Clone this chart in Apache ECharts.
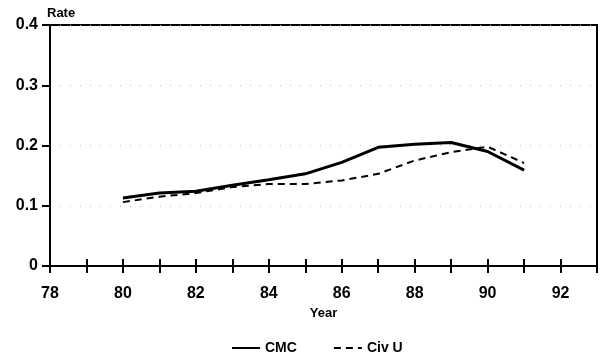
<!DOCTYPE html>
<html>
<head>
<meta charset="utf-8">
<script src="https://cdn.jsdelivr.net/npm/echarts@6/dist/echarts.min.js"></script>
<style>
  html, body { margin: 0; padding: 0; background: #fff; }
  #chart { width: 600px; height: 356px; }
</style>
</head>
<body>
<div id="chart"></div>
<script>
// data
const years = [80, 81, 82, 83, 84, 85, 86, 87, 88, 89, 90, 91]
const cmc = [0.113, 0.121, 0.124, 0.134, 0.143, 0.153, 0.172, 0.197, 0.202, 0.205, 0.190, 0.159]
const civU = [0.106, 0.115, 0.121, 0.131, 0.136, 0.136, 0.142, 0.153, 0.175, 0.189, 0.198, 0.171]

function pairs(xs, ys) {
  return xs.map((x, i) => [x, ys[i]])
}

const font = 'Liberation Sans, Arial, sans-serif'
const chart = echarts.init(document.getElementById('chart'))

const xCommon = {
  type: 'value',
  min: 78,
  max: 93,
  interval: 1,
  splitLine: { show: false }
}

chart.setOption({
  animation: false,
  backgroundColor: '#fff',
  grid: {
    left: 50, top: 25, right: 2, bottom: 90,
    show: true,
    borderColor: '#000',
    borderWidth: 2
  },
  legend: {
    top: 336,
    left: 226,
    itemWidth: 28,
    itemHeight: 10,
    itemGap: 36,
    itemStyle: { opacity: 0 },
    textStyle: { fontFamily: font, fontWeight: 'bold', fontSize: 14, color: '#000' },
    data: ['CMC', 'Civ U']
  },
  xAxis: [
    Object.assign({}, xCommon, {
      name: 'Year',
      nameLocation: 'middle',
      nameGap: 33,
      nameTextStyle: { fontFamily: font, fontWeight: 'bold', fontSize: 13, color: '#000' },
      axisLine: { lineStyle: { color: '#000', width: 2 } },
      axisTick: { length: 7, lineStyle: { color: '#000', width: 2 } },
      axisLabel: {
        margin: 20,
        fontFamily: font, fontWeight: 'bold', fontSize: 16, color: '#000',
        formatter: v => (v % 2 === 0 ? String(v) : '')
      }
    }),
    Object.assign({}, xCommon, {
      position: 'bottom',
      axisLine: { show: false },
      axisTick: { inside: true, length: 7, lineStyle: { color: '#000', width: 2 } },
      axisLabel: { show: false }
    })
  ],
  yAxis: {
    type: 'value',
    min: 0,
    max: 0.4,
    interval: 0.1,
    name: 'Rate',
    nameLocation: 'end',
    nameGap: 5,
    nameTextStyle: { fontFamily: font, fontWeight: 'bold', fontSize: 13, color: '#000', align: 'left', padding: [0, 0, 0, -3] },
    axisLine: { show: true, lineStyle: { color: '#000', width: 2 } },
    axisTick: { show: true, length: 8, lineStyle: { color: '#000', width: 2 } },
    axisLabel: {
      margin: 12,
      fontFamily: font, fontWeight: 'bold', fontSize: 16, color: '#000',
      formatter: v => (v === 0 ? '0' : v.toFixed(1))
    },
    splitLine: { show: true, lineStyle: { color: '#bbb', width: 1, type: [1, 9] } }
  },
  series: [
    {
      name: 'CMC',
      type: 'line',
      symbol: 'none',
      data: pairs(years, cmc),
      lineStyle: { color: '#000', width: 3 },
      itemStyle: { color: '#000' }
    },
    {
      name: 'Civ U',
      type: 'line',
      symbol: 'none',
      data: pairs(years, civU),
      lineStyle: { color: '#000', width: 2, type: [7, 5] },
      itemStyle: { color: '#000' }
    }
  ]
})
</script>
</body>
</html>
